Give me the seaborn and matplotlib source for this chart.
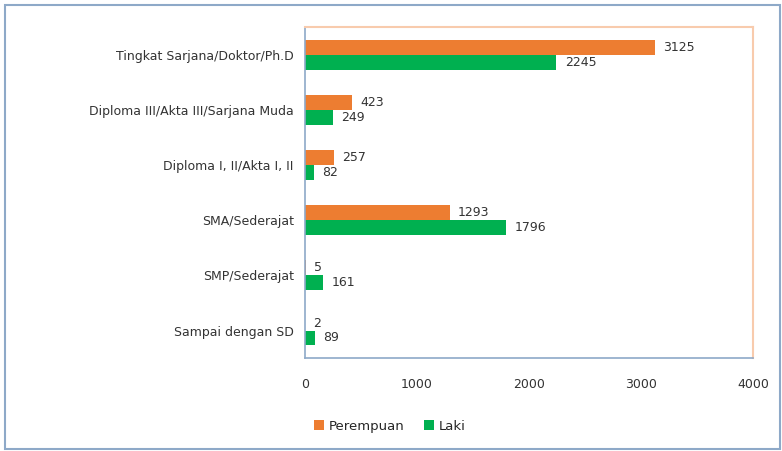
import pandas as pd
import matplotlib.pyplot as plt
import seaborn as sns
from matplotlib.patches import Rectangle

# Data
categories = ["Tingkat Sarjana/Doktor/Ph.D", "Diploma III/Akta III/Sarjana Muda",
              "Diploma I, II/Akta I, II", "SMA/Sederajat", "SMP/Sederajat",
              "Sampai dengan SD"]
perempuan = [3125, 423, 257, 1293, 5, 2]
laki = [2245, 249, 82, 1796, 161, 89]
xticks = [0, 1000, 2000, 3000, 4000]

df = pd.DataFrame({
    "Pendidikan": categories * 2,
    "Jumlah": perempuan + laki,
    "Jenis": ["Perempuan"] * len(categories) + ["Laki"] * len(categories),
})

sns.set_style("white")
plt.rcParams['font.family'] = ['DejaVu Sans']

fig = plt.figure(figsize=(7.82, 4.51), dpi=100)
ax = fig.add_axes([0.39, 0.206, 0.573, 0.734])

sns.barplot(data=df, y="Pendidikan", x="Jumlah", hue="Jenis",
            palette={"Perempuan": "#ED7D31", "Laki": "#00B050"},
            width=0.54, orient="h", ax=ax, saturation=1, linewidth=0)

for c in ax.containers:
    ax.bar_label(c, padding=6, fontsize=9, color="#333333")

ax.set_xlim(0, 4000)
ax.set_xticks(xticks)
ax.set_xlabel("")
ax.set_ylabel("")
ax.tick_params(axis="both", labelsize=9, colors="#333333", length=0, pad=8)
ax.tick_params(axis="x", pad=14)

for side in ["top", "right"]:
    ax.spines[side].set_color("#F8CBAD")
    ax.spines[side].set_linewidth(1.5)
for side in ["left", "bottom"]:
    ax.spines[side].set_color("#8EA9C8")
    ax.spines[side].set_linewidth(1.2)

ax.legend(loc="upper center", bbox_to_anchor=(0.19, -0.15), ncol=2,
          frameon=False, fontsize=9.5, handlelength=0.7, handleheight=0.7,
          columnspacing=1.5, handletextpad=0.4)

# outer chart border
fig.patches.append(Rectangle((0.007, 0.005), 0.99, 0.985, transform=fig.transFigure,
                             fill=False, edgecolor="#8EA9C8", linewidth=1.5))

fig.savefig("out.png", dpi=100)
